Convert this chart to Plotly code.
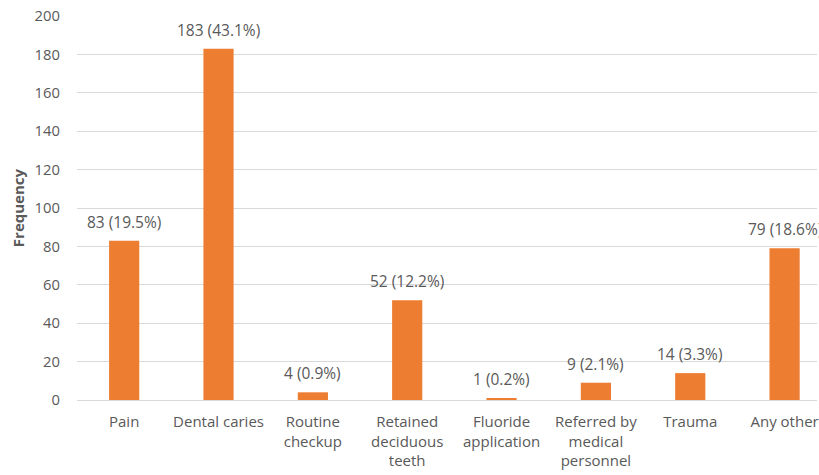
import plotly.graph_objects as go

# Reasons for dental visit
categories = [
    "Pain",
    "Dental caries",
    "Routine<br>checkup",
    "Retained<br>deciduous<br>teeth",
    "Fluoride<br>application",
    "Referred by<br>medical<br>personnel",
    "Trauma",
    "Any other",
]
frequency = [83, 183, 4, 52, 1, 9, 14, 79]
percent = [19.5, 43.1, 0.9, 12.2, 0.2, 2.1, 3.3, 18.6]
y_ticks = [0, 20, 40, 60, 80, 100, 120, 140, 160, 180, 200]

BAR = "#ED7D31"
TEXT = "#595959"
FONT = "Open Sans"

x_idx = list(range(len(categories)))

fig = go.Figure()
fig.add_trace(go.Bar(
    x=x_idx,
    y=frequency,
    marker=dict(color=BAR, line=dict(width=0)),
    width=0.32,
    hoverinfo="skip",
))

# value labels above each bar
for i, (v, p) in enumerate(zip(frequency, percent)):
    fig.add_annotation(
        x=i, y=v, xref="x", yref="y",
        text=f"{v} ({p}%)",
        showarrow=False, yanchor="bottom", yshift=6,
        font=dict(family=FONT, size=15.5, color=TEXT),
    )

plot_left = 77
fig_w = 819
plot_w = fig_w - plot_left
cat_px = 94.6

fig.add_annotation(
    x=(18 - plot_left) / plot_w, y=0.5, xref="paper", yref="paper",
    text="<b>Frequency</b>", textangle=-90, showarrow=False,
    xanchor="center", yanchor="middle",
    font=dict(family=FONT, size=15, color=TEXT),
)

fig.update_layout(
    width=fig_w, height=475,
    margin=dict(l=plot_left, r=0, t=16, b=75),
    paper_bgcolor="white", plot_bgcolor="white",
    showlegend=False,
    font=dict(family=FONT, size=14.5, color=TEXT),
    xaxis=dict(
        tickmode="array", tickvals=x_idx, ticktext=categories,
        range=[-0.5, plot_w / cat_px - 0.5],
        showgrid=False, zeroline=False, showline=False,
        ticks="", ticklabelstandoff=11, ticklabeloverflow="allow",
        tickfont=dict(family=FONT, size=15, color=TEXT),
    ),
    yaxis=dict(
        range=[0, 200], tickvals=y_ticks,
        showgrid=True, gridcolor="#D9D9D9", gridwidth=1,
        zeroline=True, zerolinecolor="#D9D9D9", zerolinewidth=1,
        showline=False, ticks="", ticklabelstandoff=16,
        tickfont=dict(family=FONT, size=14.8, color=TEXT),
    ),
)

fig.write_html("out.html")
